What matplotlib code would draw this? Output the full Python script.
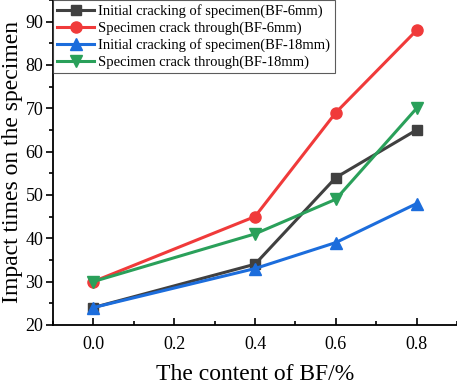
import matplotlib
matplotlib.use("Agg")
import matplotlib.pyplot as plt
from matplotlib.ticker import MultipleLocator

plt.rcParams['font.family'] = ['Liberation Serif', 'DejaVu Serif']

bf_content = [0.0, 0.4, 0.6, 0.8]
init_6mm = [24, 34, 54, 65]
through_6mm = [30, 45, 69, 88]
init_18mm = [24, 33, 39, 48]
through_18mm = [30, 41, 49, 70]

labels = ['Initial cracking of specimen(BF-6mm)',
          'Specimen crack through(BF-6mm)',
          'Initial cracking of specimen(BF-18mm)',
          'Specimen crack through(BF-18mm)']

fig = plt.figure(figsize=(4.57, 3.84), dpi=100)
ax = fig.add_axes([0.116, 0.154, 0.884, 0.846])

lw = 2.2
ms = 7
ax.plot(bf_content, init_6mm, '-s', color='#404040', lw=lw, ms=ms, label=labels[0])
ax.plot(bf_content, through_6mm, '-o', color='#f03a3a', lw=lw, ms=ms + 1, label=labels[1])
ax.plot(bf_content, init_18mm, '-^', color='#1c6ddc', lw=lw, ms=ms + 1, label=labels[2])
ax.plot(bf_content, through_18mm, '-v', color='#2aa05a', lw=lw, ms=ms + 1, label=labels[3])

ax.set_xlim(-0.1, 0.9)
ax.set_ylim(20, 95)
ax.xaxis.set_major_locator(MultipleLocator(0.2))
ax.xaxis.set_minor_locator(MultipleLocator(0.1))
ax.yaxis.set_major_locator(MultipleLocator(10))
ax.yaxis.set_minor_locator(MultipleLocator(5))
ax.tick_params(which='both', labelsize=13, width=1.2)
ax.tick_params(axis='x', which='both', direction='in', pad=8)
ax.tick_params(axis='y', which='both', direction='out', pad=2)
ax.tick_params(which='major', length=5)
ax.tick_params(which='minor', length=3)
ax.spines['top'].set_visible(False)
ax.spines['right'].set_visible(False)
for s in ['left', 'bottom']:
    ax.spines[s].set_linewidth(1.3)

ax.set_xlabel('The content of BF/%', fontsize=17, labelpad=8)
ax.set_ylabel('Impact times on the specimen', fontsize=17, labelpad=2)

leg = ax.legend(loc='upper left', bbox_to_anchor=(0.0, 1.0), fontsize=10.5,
                frameon=True, fancybox=False, edgecolor='#333333',
                borderpad=0.3, labelspacing=0.22, handlelength=2.5,
                handletextpad=0.3, borderaxespad=0.0)
leg.get_frame().set_linewidth(0.8)

fig.savefig('out.png', dpi=100)
